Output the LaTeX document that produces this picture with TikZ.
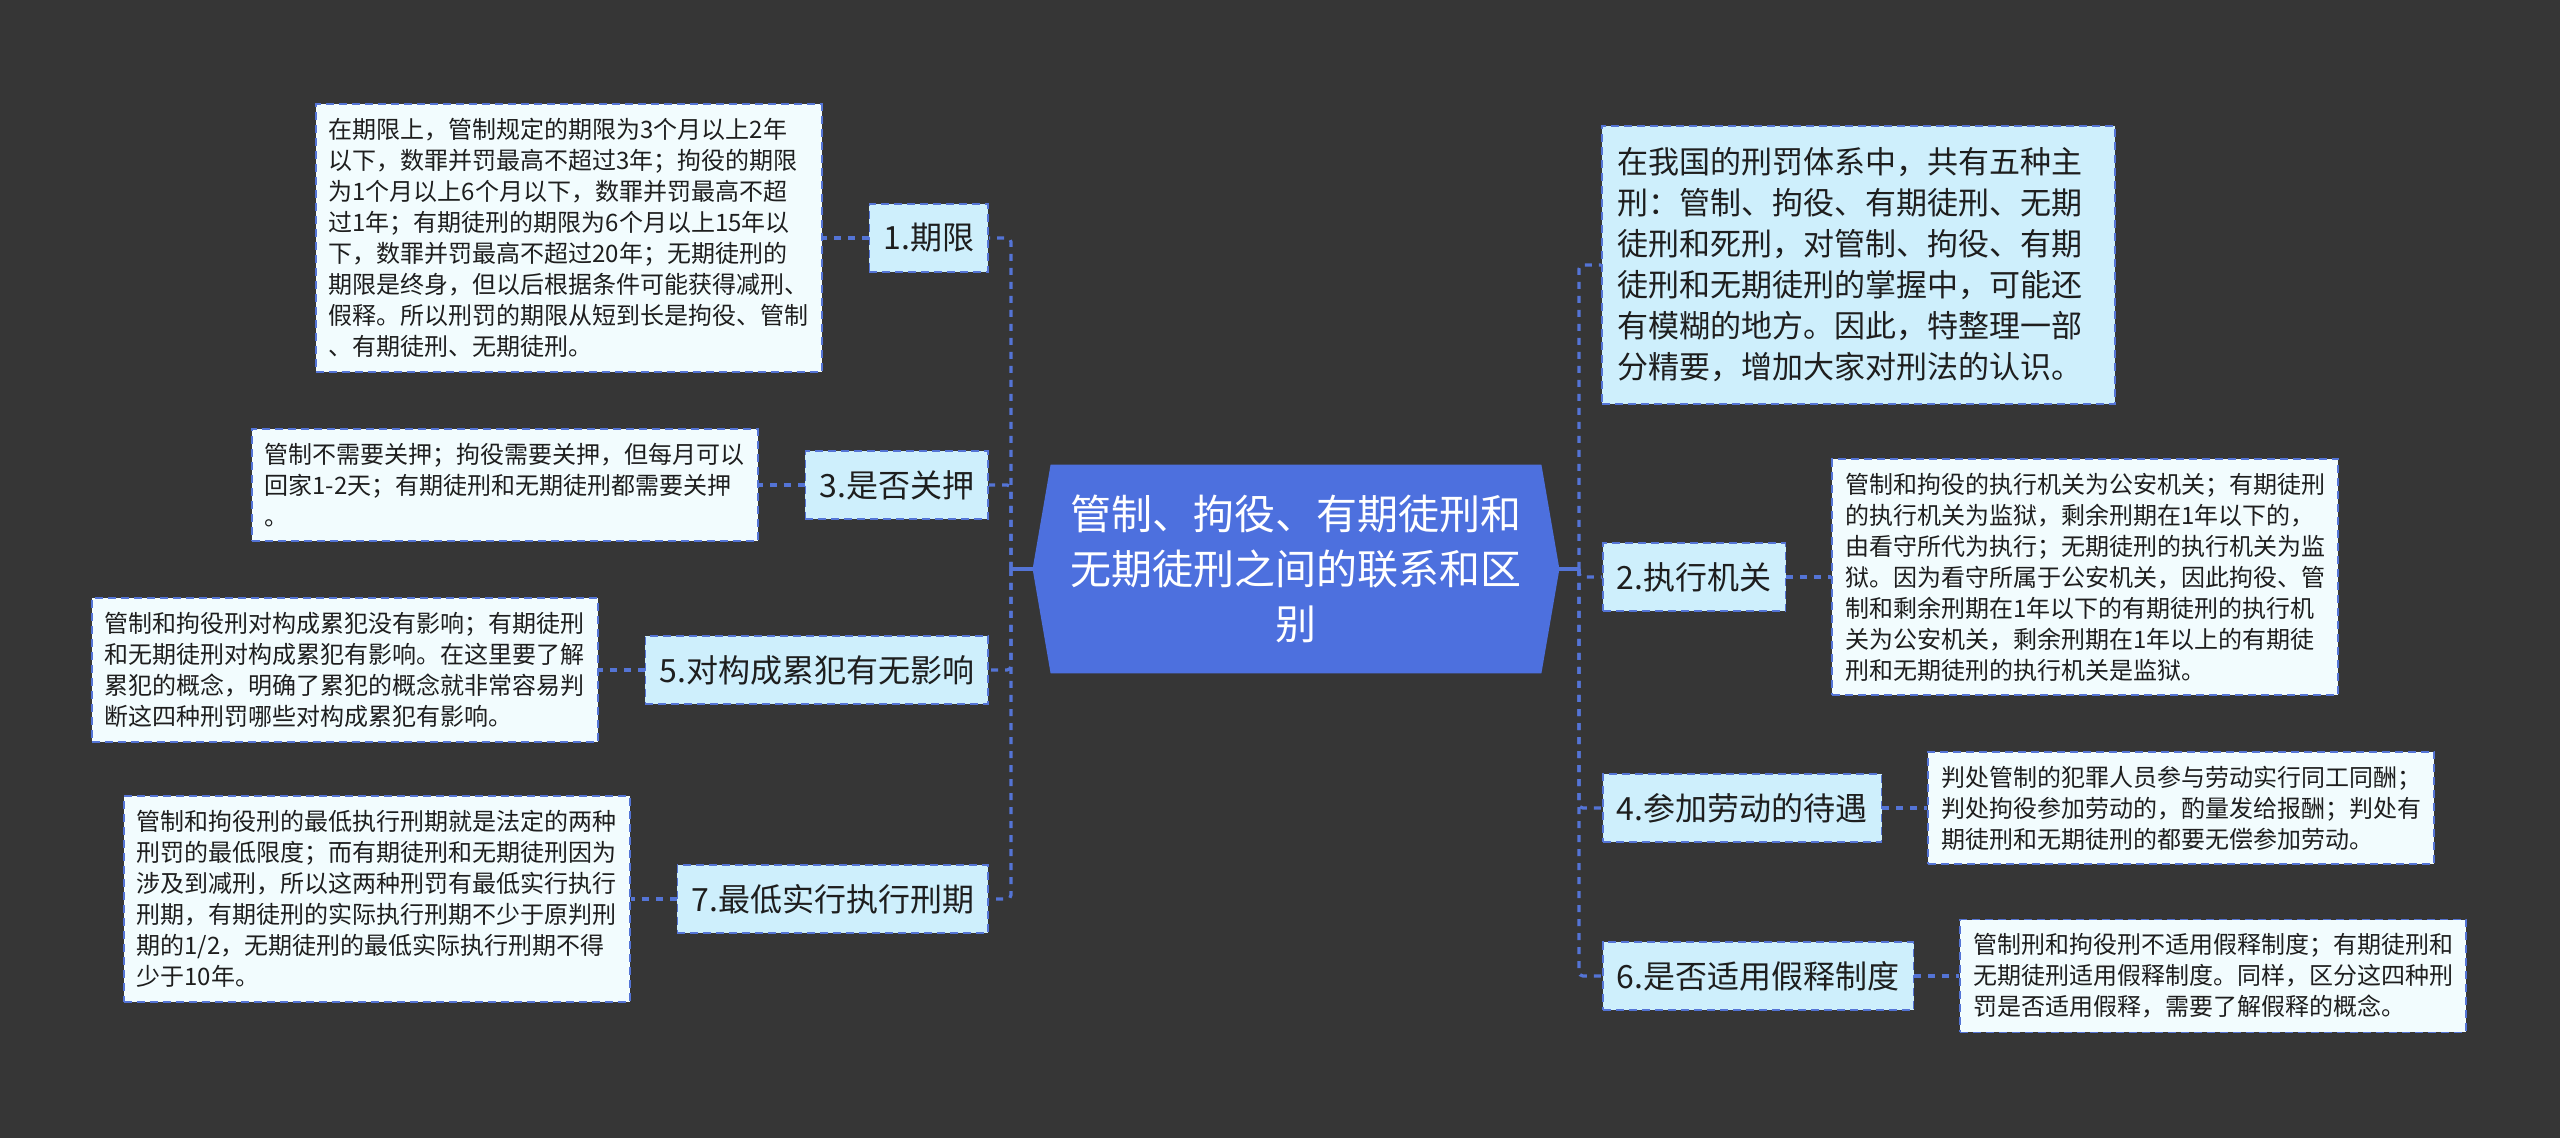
\documentclass[tikz,border=0pt]{standalone}
\usepackage{fontspec}
\setmainfont{Noto Sans CJK SC}
\usetikzlibrary{positioning, backgrounds}

\definecolor{bgdark}{RGB}{54,54,54}
\definecolor{rootblue}{RGB}{77,112,222}
\definecolor{linkblue}{RGB}{84,116,214}
\definecolor{topicfill}{RGB}{206,239,252}
\definecolor{notefill}{RGB}{242,252,254}
\definecolor{inkdark}{RGB}{30,30,30}

\begin{document}
\begin{tikzpicture}[x=0.5pt, y=-0.5pt]

		\tikzstyle{root}=[rectangle, text=white, align=center, minimum width=263pt, minimum height=104pt, inner sep=0pt, font=\fontsize{20.5pt}{27.5pt}\selectfont]
		\tikzstyle{topic}=[rectangle, draw=linkblue, line width=0.9pt, dash pattern=on 4pt off 2.5pt, fill=topicfill, text=inkdark, minimum height=34pt, inner xsep=7pt, font=\fontsize{16pt}{19pt}\selectfont]
		\tikzstyle{note}=[rectangle, draw=linkblue, line width=0.9pt, dash pattern=on 4pt off 2.5pt, fill=notefill, text=inkdark, align=left, minimum width=253pt, inner xsep=6.5pt, inner ysep=7pt, font=\fontsize{12pt}{15.5pt}\selectfont]
		\tikzstyle{intro}=[rectangle, draw=linkblue, line width=0.9pt, dash pattern=on 4pt off 2.5pt, fill=topicfill, text=inkdark, text width=241pt, align=left, inner xsep=7.75pt, inner ysep=11pt, font=\fontsize{15.5pt}{20.5pt}\selectfont]
		\tikzstyle{branch}=[linkblue, line width=1.6pt, dash pattern=on 3.5pt off 3.5pt, rounded corners=2pt]
		\tikzstyle{trunk}=[linkblue, line width=1.6pt]

		\useasboundingbox (0,0) rectangle (2560,1138);

		\node[root] (root) at (1296,569) {管制、拘役、有期徒刑和\\无期徒刑之间的联系和区\\别};

		\coordinate (ljoin) at (1011,569);
		\coordinate (rjoin) at (1579,569);

		% left branches
		\node[topic, anchor=east] (t1) at (989,238) {1.期限};
		\node[topic, anchor=east] (t3) at (989,485) {3.是否关押};
		\node[topic, anchor=east] (t5) at (989,670) {5.对构成累犯有无影响};
		\node[topic, anchor=east] (t7) at (989,899) {7.最低实行执行刑期};

		\node[note, left=23pt of t1] (d1) {在期限上，管制规定的期限为3个月以上2年\\
			以下，数罪并罚最高不超过3年；拘役的期限\\
			为1个月以上6个月以下，数罪并罚最高不超\\
			过1年；有期徒刑的期限为6个月以上15年以\\
			下，数罪并罚最高不超过20年；无期徒刑的\\
			期限是终身，但以后根据条件可能获得减刑、\\
			假释。所以刑罚的期限从短到长是拘役、管制\\
			、有期徒刑、无期徒刑。};
		\node[note, left=23pt of t3] (d3) {管制不需要关押；拘役需要关押，但每月可以\\
			回家1-2天；有期徒刑和无期徒刑都需要关押\\
			。};
		\node[note, left=23pt of t5] (d5) {管制和拘役刑对构成累犯没有影响；有期徒刑\\
			和无期徒刑对构成累犯有影响。在这里要了解\\
			累犯的概念，明确了累犯的概念就非常容易判\\
			断这四种刑罚哪些对构成累犯有影响。};
		\node[note, left=23pt of t7] (d7) {管制和拘役刑的最低执行刑期就是法定的两种\\
			刑罚的最低限度；而有期徒刑和无期徒刑因为\\
			涉及到减刑，所以这两种刑罚有最低实行执行\\
			刑期，有期徒刑的实际执行刑期不少于原判刑\\
			期的1/2，无期徒刑的最低实际执行刑期不得\\
			少于10年。};

		% right branches
		\node[intro, anchor=west] (intro) at (1601,265) {在我国的刑罚体系中，共有五种主\\
			刑：管制、拘役、有期徒刑、无期\\
			徒刑和死刑，对管制、拘役、有期\\
			徒刑和无期徒刑的掌握中，可能还\\
			有模糊的地方。因此，特整理一部\\
			分精要，增加大家对刑法的认识。};
		\node[topic, anchor=west] (t2) at (1602,577) {2.执行机关};
		\node[topic, anchor=west] (t4) at (1602,808) {4.参加劳动的待遇};
		\node[topic, anchor=west] (t6) at (1602,976) {6.是否适用假释制度};

		\node[note, right=22.5pt of t2] (d2) {管制和拘役的执行机关为公安机关；有期徒刑\\
			的执行机关为监狱，剩余刑期在1年以下的，\\
			由看守所代为执行；无期徒刑的执行机关为监\\
			狱。因为看守所属于公安机关，因此拘役、管\\
			制和剩余刑期在1年以下的有期徒刑的执行机\\
			关为公安机关，剩余刑期在1年以上的有期徒\\
			刑和无期徒刑的执行机关是监狱。};
		\node[note, right=22.5pt of t4] (d4) {判处管制的犯罪人员参与劳动实行同工同酬；\\
			判处拘役参加劳动的，酌量发给报酬；判处有\\
			期徒刑和无期徒刑的都要无偿参加劳动。};
		\node[note, right=22.5pt of t6] (d6) {管制刑和拘役刑不适用假释制度；有期徒刑和\\
			无期徒刑适用假释制度。同样，区分这四种刑\\
			罚是否适用假释，需要了解假释的概念。};

		\begin{pgfonlayer}{background}
		\fill[bgdark] (0,0) rectangle (2560,1138);
		\fill[rootblue] (root.west) -- ([xshift=9pt]root.north west) -- ([xshift=-9pt]root.north east)
			-- (root.east) -- ([xshift=-9pt]root.south east) -- ([xshift=9pt]root.south west) -- cycle;
		\end{pgfonlayer}

		% links
		\draw[trunk] (root.west) -- (ljoin);
		\draw[trunk] (root.east) -- (rjoin);
		\draw[branch] (ljoin) |- (t1.east);
		\draw[branch] (ljoin) |- (t3.east);
		\draw[branch] (ljoin) |- (t5.east);
		\draw[branch] (ljoin) |- (t7.east);
		\draw[branch] (rjoin) |- (intro.west);
		\draw[branch] (rjoin) |- (t2.west);
		\draw[branch] (rjoin) |- (t4.west);
		\draw[branch] (rjoin) |- (t6.west);

		\draw[branch] (t1.west) -- (d1.east);
		\draw[branch] (t3.west) -- (d3.east);
		\draw[branch] (t5.west) -- (d5.east);
		\draw[branch] (t7.west) -- (d7.east);
		\draw[branch] (t2.east) -- (d2.west);
		\draw[branch] (t4.east) -- (d4.west);
		\draw[branch] (t6.east) -- (d6.west);
\end{tikzpicture}
\end{document}
